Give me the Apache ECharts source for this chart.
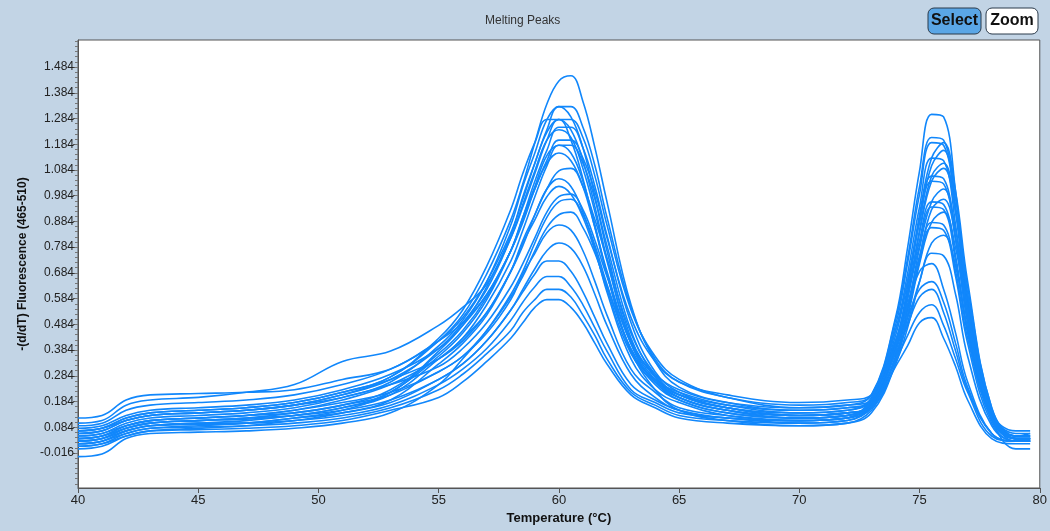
<!DOCTYPE html>
<html>
<head>
<meta charset="utf-8">
<script src="https://cdn.jsdelivr.net/npm/echarts@6.0.0/dist/echarts.min.js"></script>
<style>
  html, body { margin: 0; padding: 0; background: #c2d4e5; }
  #chart { width: 1050px; height: 531px; }
</style>
</head>
<body>
<div id="chart"></div>
<script>
  // temperature grid shared by every well curve
  const temps = [40, 41, 42, 43, 45, 47, 49, 51, 53, 55, 56, 57, 58, 58.5, 59, 59.5, 60, 60.5, 61, 61.5, 62, 63, 64, 65, 67, 70, 72, 73, 74, 74.5, 75, 75.5, 76, 76.5, 77, 78, 79, 79.6];

  // -(d/dT) fluorescence, one array per well
  const c01 = [0.07, 0.08, 0.12, 0.14, 0.15, 0.16, 0.18, 0.22, 0.28, 0.42, 0.52, 0.68, 0.89, 1.03, 1.19, 1.34, 1.43, 1.45, 1.35, 1.17, 0.96, 0.56, 0.34, 0.24, 0.18, 0.15, 0.16, 0.18, 0.41, 0.63, 0.91, 1.13, 1.19, 1.00, 0.65, 0.16, 0.05, 0.05];
  const c02 = [0.10, 0.11, 0.17, 0.19, 0.20, 0.22, 0.25, 0.34, 0.38, 0.48, 0.55, 0.64, 0.82, 0.94, 1.07, 1.20, 1.28, 1.28, 1.21, 1.06, 0.87, 0.54, 0.36, 0.27, 0.20, 0.16, 0.17, 0.21, 0.51, 0.78, 1.08, 1.30, 1.29, 1.00, 0.59, 0.14, 0.05, 0.06];
  const c03 = [0.09, 0.10, 0.15, 0.17, 0.18, 0.19, 0.21, 0.25, 0.31, 0.42, 0.51, 0.65, 0.84, 0.97, 1.11, 1.24, 1.33, 1.33, 1.25, 1.10, 0.90, 0.55, 0.35, 0.26, 0.20, 0.17, 0.18, 0.21, 0.50, 0.74, 1.02, 1.21, 1.20, 0.94, 0.57, 0.14, 0.06, 0.06];
  const c04 = [0.05, 0.06, 0.10, 0.12, 0.13, 0.14, 0.16, 0.20, 0.26, 0.40, 0.50, 0.65, 0.87, 1.02, 1.15, 1.28, 1.33, 1.29, 1.17, 0.98, 0.77, 0.43, 0.28, 0.21, 0.16, 0.13, 0.14, 0.17, 0.40, 0.61, 0.89, 1.10, 1.16, 0.97, 0.63, 0.16, 0.04, 0.04];
  const c05 = [0.07, 0.08, 0.12, 0.14, 0.15, 0.16, 0.18, 0.22, 0.28, 0.43, 0.54, 0.71, 0.93, 1.07, 1.19, 1.28, 1.28, 1.20, 1.05, 0.86, 0.68, 0.38, 0.27, 0.22, 0.17, 0.14, 0.15, 0.20, 0.48, 0.72, 0.99, 1.19, 1.18, 0.92, 0.55, 0.14, 0.05, 0.05];
  const c06 = [0.03, 0.04, 0.08, 0.10, 0.11, 0.12, 0.14, 0.17, 0.23, 0.37, 0.46, 0.59, 0.77, 0.90, 1.04, 1.16, 1.25, 1.25, 1.17, 1.02, 0.83, 0.49, 0.30, 0.22, 0.16, 0.13, 0.14, 0.17, 0.39, 0.59, 0.85, 1.06, 1.11, 0.93, 0.60, 0.15, 0.04, 0.04];
  const c07 = [0.06, 0.07, 0.11, 0.13, 0.14, 0.15, 0.17, 0.21, 0.27, 0.39, 0.49, 0.62, 0.82, 0.95, 1.08, 1.20, 1.24, 1.21, 1.09, 0.92, 0.73, 0.42, 0.28, 0.21, 0.16, 0.14, 0.15, 0.19, 0.44, 0.65, 0.89, 1.06, 1.05, 0.82, 0.49, 0.12, 0.04, 0.04];
  const c08 = [0.02, 0.03, 0.07, 0.09, 0.10, 0.11, 0.13, 0.16, 0.21, 0.35, 0.43, 0.56, 0.73, 0.85, 0.98, 1.10, 1.18, 1.18, 1.11, 0.97, 0.79, 0.46, 0.28, 0.20, 0.15, 0.12, 0.13, 0.16, 0.36, 0.54, 0.78, 0.96, 1.01, 0.85, 0.55, 0.13, 0.03, 0.03];
  const c09 = [0.08, 0.09, 0.13, 0.15, 0.16, 0.17, 0.19, 0.23, 0.29, 0.39, 0.48, 0.60, 0.77, 0.89, 1.01, 1.11, 1.15, 1.12, 1.02, 0.86, 0.69, 0.41, 0.29, 0.23, 0.18, 0.16, 0.17, 0.19, 0.42, 0.60, 0.81, 0.96, 0.95, 0.75, 0.46, 0.12, 0.05, 0.05];
  const c10 = [0.04, 0.05, 0.09, 0.11, 0.12, 0.13, 0.15, 0.19, 0.25, 0.35, 0.42, 0.53, 0.69, 0.79, 0.91, 1.01, 1.08, 1.09, 1.02, 0.89, 0.74, 0.45, 0.29, 0.21, 0.16, 0.13, 0.14, 0.17, 0.35, 0.51, 0.72, 0.88, 0.92, 0.78, 0.52, 0.13, 0.04, 0.04];
  const c11 = [0.00, 0.01, 0.05, 0.07, 0.08, 0.09, 0.11, 0.14, 0.19, 0.33, 0.41, 0.52, 0.69, 0.81, 0.91, 1.01, 1.05, 1.02, 0.92, 0.78, 0.61, 0.35, 0.23, 0.18, 0.13, 0.11, 0.12, 0.17, 0.38, 0.54, 0.73, 0.86, 0.85, 0.67, 0.41, 0.10, 0.03, 0.03];
  const c12 = [0.06, 0.07, 0.11, 0.13, 0.14, 0.15, 0.17, 0.20, 0.25, 0.32, 0.39, 0.49, 0.63, 0.72, 0.82, 0.92, 0.98, 0.99, 0.93, 0.81, 0.67, 0.41, 0.27, 0.20, 0.15, 0.13, 0.14, 0.16, 0.33, 0.47, 0.65, 0.80, 0.83, 0.71, 0.47, 0.13, 0.04, 0.04];
  const c13 = [0.01, 0.02, 0.05, 0.07, 0.075, 0.08, 0.09, 0.11, 0.15, 0.20, 0.26, 0.34, 0.43, 0.49, 0.55, 0.58, 0.58, 0.55, 0.49, 0.41, 0.33, 0.21, 0.16, 0.12, 0.10, 0.09, 0.10, 0.15, 0.32, 0.40, 0.49, 0.51, 0.43, 0.32, 0.19, 0.04, 0.02, 0.02];
  const c14 = [0.02, 0.03, 0.06, 0.08, 0.085, 0.09, 0.10, 0.12, 0.16, 0.23, 0.29, 0.37, 0.46, 0.53, 0.58, 0.62, 0.62, 0.59, 0.52, 0.44, 0.35, 0.22, 0.17, 0.13, 0.11, 0.10, 0.11, 0.16, 0.34, 0.44, 0.53, 0.56, 0.48, 0.35, 0.22, 0.05, 0.03, 0.03];
  const c15 = [0.03, 0.04, 0.07, 0.09, 0.10, 0.10, 0.11, 0.13, 0.17, 0.25, 0.31, 0.39, 0.50, 0.57, 0.63, 0.67, 0.67, 0.63, 0.56, 0.47, 0.38, 0.23, 0.18, 0.14, 0.12, 0.10, 0.11, 0.17, 0.37, 0.48, 0.59, 0.62, 0.53, 0.38, 0.23, 0.06, 0.03, 0.03];
  const c16 = [0.02, 0.03, 0.07, 0.09, 0.095, 0.10, 0.12, 0.14, 0.18, 0.27, 0.33, 0.42, 0.54, 0.61, 0.68, 0.73, 0.73, 0.69, 0.61, 0.51, 0.41, 0.25, 0.19, 0.15, 0.12, 0.11, 0.12, 0.18, 0.39, 0.51, 0.62, 0.65, 0.57, 0.41, 0.24, 0.06, 0.03, 0.03];
  const c17 = [0.04, 0.05, 0.08, 0.10, 0.11, 0.12, 0.13, 0.15, 0.19, 0.27, 0.33, 0.42, 0.54, 0.62, 0.70, 0.77, 0.80, 0.78, 0.71, 0.60, 0.48, 0.29, 0.20, 0.15, 0.12, 0.11, 0.12, 0.19, 0.42, 0.55, 0.69, 0.72, 0.62, 0.45, 0.26, 0.06, 0.03, 0.03];
  const c18 = [0.03, 0.04, 0.08, 0.10, 0.11, 0.115, 0.13, 0.16, 0.21, 0.30, 0.36, 0.45, 0.58, 0.68, 0.76, 0.84, 0.87, 0.85, 0.77, 0.65, 0.52, 0.31, 0.22, 0.16, 0.13, 0.11, 0.12, 0.16, 0.35, 0.49, 0.65, 0.76, 0.75, 0.60, 0.36, 0.09, 0.03, 0.03];
  const c19 = [0.05, 0.06, 0.09, 0.11, 0.12, 0.13, 0.15, 0.18, 0.22, 0.30, 0.36, 0.46, 0.59, 0.67, 0.77, 0.86, 0.91, 0.92, 0.86, 0.76, 0.63, 0.39, 0.26, 0.19, 0.14, 0.12, 0.13, 0.18, 0.41, 0.59, 0.79, 0.94, 0.93, 0.73, 0.45, 0.11, 0.04, 0.04];
  const c20 = [0.01, 0.02, 0.06, 0.08, 0.09, 0.10, 0.12, 0.15, 0.22, 0.36, 0.45, 0.58, 0.77, 0.90, 1.02, 1.14, 1.18, 1.15, 1.04, 0.87, 0.68, 0.38, 0.25, 0.19, 0.14, 0.12, 0.13, 0.19, 0.46, 0.68, 0.94, 1.13, 1.12, 0.87, 0.52, 0.12, 0.04, 0.04];
  const c21 = [-0.03, -0.02, 0.04, 0.06, 0.065, 0.07, 0.08, 0.10, 0.14, 0.25, 0.35, 0.46, 0.60, 0.69, 0.80, 0.90, 0.96, 0.97, 0.91, 0.79, 0.64, 0.38, 0.23, 0.15, 0.11, 0.09, 0.10, 0.14, 0.33, 0.52, 0.74, 0.93, 0.97, 0.82, 0.53, 0.12, 0.00, 0.00];
  const c22 = [0.12, 0.13, 0.19, 0.21, 0.215, 0.22, 0.23, 0.27, 0.31, 0.42, 0.49, 0.60, 0.77, 0.88, 1.01, 1.12, 1.20, 1.20, 1.13, 1.00, 0.82, 0.51, 0.34, 0.26, 0.21, 0.18, 0.19, 0.21, 0.46, 0.65, 0.88, 1.04, 1.03, 0.81, 0.50, 0.14, 0.07, 0.07];
  const c23 = [0.04, 0.05, 0.09, 0.11, 0.12, 0.13, 0.14, 0.17, 0.22, 0.38, 0.48, 0.63, 0.83, 0.98, 1.11, 1.23, 1.28, 1.24, 1.12, 0.94, 0.74, 0.41, 0.26, 0.20, 0.15, 0.12, 0.13, 0.17, 0.38, 0.58, 0.84, 1.04, 1.09, 0.92, 0.60, 0.15, 0.04, 0.04];
  const c24 = [0.07, 0.08, 0.11, 0.13, 0.14, 0.15, 0.17, 0.21, 0.27, 0.35, 0.43, 0.53, 0.69, 0.80, 0.89, 0.98, 1.02, 0.99, 0.90, 0.77, 0.62, 0.37, 0.26, 0.21, 0.17, 0.15, 0.16, 0.19, 0.40, 0.56, 0.75, 0.88, 0.87, 0.69, 0.43, 0.12, 0.05, 0.05];

  const curves = [c01, c02, c03, c04, c05, c06, c07, c08, c09, c10, c11, c12,
                  c13, c14, c15, c16, c17, c18, c19, c20, c21, c22, c23, c24];

  // y tick labels as printed on the instrument plot
  const yTicks = [-0.016, 0.084, 0.184, 0.284, 0.384, 0.484, 0.584, 0.684, 0.784, 0.884, 0.984, 1.084, 1.184, 1.284, 1.384, 1.484];
  const xTicks = [40, 45, 50, 55, 60, 65, 70, 75, 80];

  const yMin = -0.152;
  const yMax = 1.589;
  const lineColor = '#1187fb';

  // minor ticks every 0.02 around the labelled ones
  const yMinor = [];
  for (let v = yTicks[0] - 0.14; v < yMax; v += 0.02) {
    if (v > yMin) yMinor.push(+v.toFixed(3));
  }

  const chart = echarts.init(document.getElementById('chart'), null, { renderer: 'canvas' });

  const series = curves.map((vals, i) => ({
    name: 'well' + (i + 1),
    type: 'line',
    xAxisIndex: 0,
    yAxisIndex: 0,
    data: temps.map((t, j) => [t, vals[j]]),
    showSymbol: false,
    symbol: 'none',
    smooth: 0.4,
    lineStyle: { width: 1.6, color: lineColor },
    silent: true,
  }));

  const option = {
    animation: false,
    backgroundColor: '#c2d4e5',
    textStyle: { fontFamily: 'Liberation Sans, Arial, sans-serif' },
    grid: {
      left: 78,
      right: 6,
      top: 40,
      bottom: 43,
      show: true,
      backgroundColor: '#ffffff',
      borderColor: '#555',
      borderWidth: 1,
    },
    xAxis: {
      type: 'value',
      min: 40,
      max: 80,
      interval: 5,
      name: 'Temperature (°C)',
      nameLocation: 'middle',
      nameGap: 22,
      nameTextStyle: { fontSize: 13, fontWeight: 'bold', color: '#111' },
      axisLine: { show: true, onZero: false, lineStyle: { color: '#555' } },
      axisTick: { show: true, length: 5, lineStyle: { color: '#555' }, customValues: xTicks },
      axisLabel: { fontSize: 13, color: '#222', margin: 6, customValues: xTicks },
      splitLine: { show: false },
    },
    yAxis: [
      {
        type: 'value',
        min: yMin,
        max: yMax,
        name: '-(d/dT) Fluorescence (465-510)',
        nameLocation: 'middle',
        nameGap: 47,
        nameTextStyle: { fontSize: 12, fontWeight: 'bold', color: '#111' },
        axisLine: { show: true, onZero: false, lineStyle: { color: '#555' } },
        axisTick: { show: true, length: 5, lineStyle: { color: '#555' }, customValues: yTicks },
        axisLabel: {
          fontSize: 12,
          color: '#222',
          margin: 4,
          customValues: yTicks,
          formatter: (v) => v.toFixed(3),
        },
        splitLine: { show: false },
      },
      {
        type: 'value',
        position: 'left',
        min: yMin,
        max: yMax,
        axisLine: { show: false, onZero: false },
        axisTick: { show: true, length: 3, lineStyle: { color: '#777' }, customValues: yMinor },
        axisLabel: { show: false, customValues: yMinor },
        splitLine: { show: false },
      },
    ],
    graphic: [
      {
        type: 'text',
        left: 485,
        top: 15,
        style: { text: 'Melting Peaks', font: '12px "Liberation Sans", Arial, sans-serif', fill: '#333' },
      },
      {
        type: 'rect',
        shape: { x: 928, y: 8, width: 53, height: 26, r: 6 },
        style: { fill: '#5aa6e6', stroke: '#2b3a4a', lineWidth: 1 },
      },
      {
        type: 'text',
        x: 954.5,
        y: 21,
        style: {
          text: 'Select',
          font: 'bold 16px "Liberation Sans", Arial, sans-serif',
          fill: '#111',
          textAlign: 'center',
          textVerticalAlign: 'middle',
        },
      },
      {
        type: 'rect',
        shape: { x: 986, y: 8, width: 52, height: 26, r: 6 },
        style: { fill: '#ffffff', stroke: '#2b3a4a', lineWidth: 1 },
      },
      {
        type: 'text',
        x: 1012,
        y: 21,
        style: {
          text: 'Zoom',
          font: 'bold 16px "Liberation Sans", Arial, sans-serif',
          fill: '#111',
          textAlign: 'center',
          textVerticalAlign: 'middle',
        },
      },
    ],
    series: series,
  };

  chart.setOption(option);
</script>
</body>
</html>
